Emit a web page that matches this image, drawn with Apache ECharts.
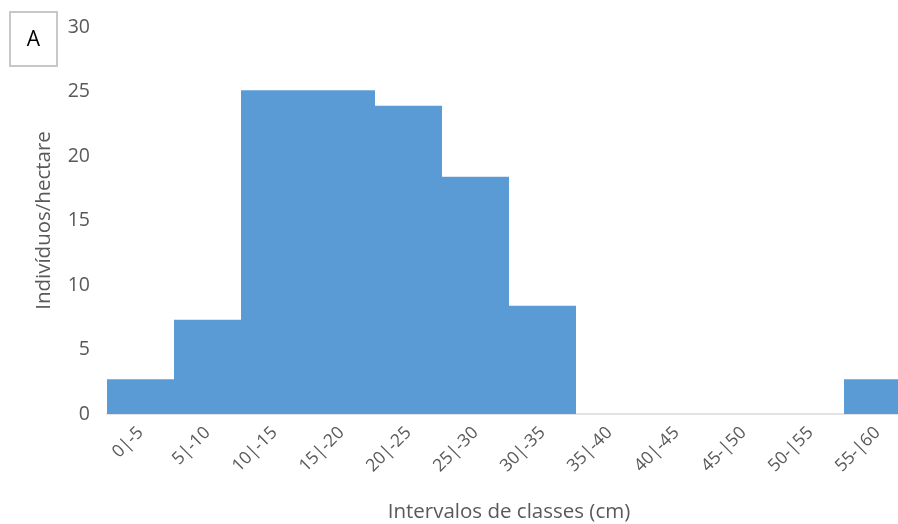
<!DOCTYPE html>
<html>
<head>
<meta charset="utf-8">
<script src="https://cdn.jsdelivr.net/npm/echarts@6/dist/echarts.min.js"></script>
<style>
  html, body { margin: 0; padding: 0; background: #fff; }
  #chart { width: 898px; height: 524px; }
</style>
</head>
<body>
<div id="chart"></div>
<script>
// Diameter classes (cm) and density per class
const classes = ['0|-5', '5|-10', '10|-15', '15|-20', '20|-25', '25|-30', '30|-35', '35|-40', '40|-45', '45-|50', '50-|55', '55-|60'];
const density = [2.7, 7.3, 25.1, 25.1, 23.9, 18.4, 8.4, 0, 0, 0, 0, 2.7];
const yTicks = [0, 5, 10, 15, 20, 25, 30];

const font = '"Open Sans", "Liberation Sans", sans-serif';
const chart = echarts.init(document.getElementById('chart'));

chart.setOption({
  animation: false,
  backgroundColor: '#ffffff',
  // the plot runs slightly past the right edge of the canvas
  grid: { left: 107, width: 804, top: 27, bottom: 110, containLabel: false, outerBoundsMode: 'none' },
  graphic: [{
    type: 'group',
    left: 9, top: 11,
    children: [
      { type: 'rect', shape: { x: 0, y: 0, width: 47, height: 54 },
        style: { fill: '#ffffff', stroke: '#c8c8c8', lineWidth: 2 } },
      { type: 'text', x: 23.5, y: 28,
        style: { text: 'A', fill: '#000000', font: '21px ' + font, align: 'center', verticalAlign: 'middle' } }
    ]
  }],
  xAxis: {
    type: 'category',
    data: classes,
    name: 'Intervalos de classes (cm)',
    nameLocation: 'middle',
    nameGap: 88,
    nameTextStyle: { color: '#595959', fontSize: 20.5, fontFamily: font },
    axisLine: { show: true, lineStyle: { color: '#d9d9d9', width: 1.5 } },
    axisTick: { show: false },
    axisLabel: { rotate: 45, interval: 0, color: '#595959', fontSize: 17.5, fontFamily: font, margin: 16 },
    splitLine: { show: false }
  },
  yAxis: {
    type: 'value',
    min: yTicks[0],
    max: yTicks[yTicks.length - 1],
    interval: 5,
    name: 'Indivíduos/hectare',
    nameLocation: 'middle',
    nameGap: 52,
    nameRotate: 90,
    nameTextStyle: { color: '#595959', fontSize: 20.5, fontFamily: font },
    axisLine: { show: false },
    axisTick: { show: false },
    axisLabel: { color: '#595959', fontSize: 19.5, fontFamily: font, margin: 17 },
    splitLine: { show: false }
  },
  series: [{
    type: 'bar',
    data: density,
    barCategoryGap: '0%',
    itemStyle: { color: '#5b9bd5' }
  }]
});
</script>
</body>
</html>
